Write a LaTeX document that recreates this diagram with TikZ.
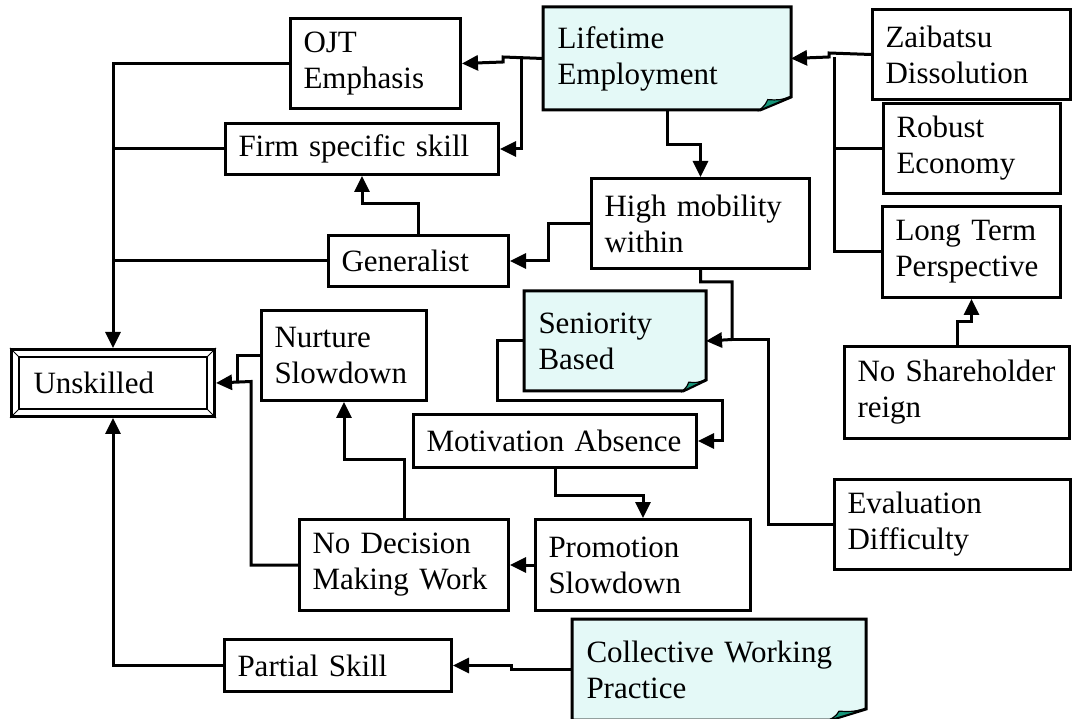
\documentclass[tikz,border=0pt]{standalone}
\usepackage{fontspec}
\setmainfont{Liberation Serif}
\usetikzlibrary{arrows.meta,calc,backgrounds}
\definecolor{notefill}{RGB}{228,249,247}
\definecolor{foldc}{RGB}{22,150,122}
\newcommand\bx[7][]{%
  \pgfmathsetmacro\myBW{#5-#3}%
  \pgfmathsetmacro\myBH{#6-#4}%
  \pgfmathsetmacro\myTW{#5-#3-26}%
  \node[box,#1,minimum width=\myBW pt,minimum height=\myBH pt,text width=\myTW pt] (#2) at (#3,#4) {#7};}
\newcommand\notedraw[3]{%
  \begin{scope}[on background layer]
    \fill[notefill] (#1.north west) -- (#1.north east) -- ($(#1.south east)+(0,-#3)$) -- ($(#1.south east)+(-#2,0)$) -- (#1.south west) -- cycle;
  \end{scope}
  \draw[line width=3pt] (#1.north west) -- (#1.north east) -- ($(#1.south east)+(0,-#3)$) -- ($(#1.south east)+(-#2,0)$) -- (#1.south west) -- cycle;
  \fill[foldc,draw=black,line width=1.2pt] ($(#1.south east)+(-#2,0)$) .. controls ($(#1.south east)+(-0.8*#2,-0.5*#3)$) .. ($(#1.south east)+(-0.75*#2,-0.8*#3)$) .. controls ($(#1.south east)+(-0.4*#2,-0.75*#3)$) .. ($(#1.south east)+(0,-#3)$) -- cycle;}
\begin{document}
\begin{tikzpicture}[x=1pt,y=-1pt,
  box/.style={draw,line width=3pt,anchor=north west,inner xsep=13pt,inner ysep=0pt,align=left,font=\fontsize{31}{36}\selectfont},
  note/.style={draw=none},
  conn/.style={line width=3pt},
  arr/.style={conn,-{Triangle[length=16pt,width=15pt]}}]
\useasboundingbox (0,0) rectangle (1072,719);
% boxes
\bx{ojt}{289}{17}{459}{107}{OJT\\Emphasis}
\bx[note]{life}{543}{7}{788}{107}{Lifetime\\Employment}
\bx{zai}{871}{8}{1069}{98}{Zaibatsu\\Dissolution}
\bx{rob}{882}{102}{1059}{192}{Robust\\Economy}
\bx{firm}{224}{122}{497}{173}{Firm specific skill}
\bx{high}{590}{177}{808}{267}{High mobility\\within}
\bx{gen}{327}{234}{507}{285}{Generalist}
\bx{lt}{881}{205}{1059}{296}{Long Term\\Perspective}
\bx[note]{sen}{524}{291}{703}{388}{Seniority\\Based}
\bx{nur}{260}{309}{425}{399}{Nurture\\Slowdown}
\bx{sh}{843}{345}{1068}{437}{No Shareholder\\reign}
\bx{mot}{412}{413}{695}{466}{Motivation Absence}
\bx{eva}{833}{478}{1069}{568}{Evaluation\\Difficulty}
\bx{nod}{298}{518}{507}{609}{No Decision\\Making Work}
\bx{pro}{534}{518}{749}{609}{Promotion\\Slowdown}
\bx{par}{223}{638}{450}{690}{Partial Skill}
\bx[note]{col}{572}{619}{863}{717}{Collective Working\\Practice}
\node[box,inner xsep=22pt,text width=159pt,minimum width=203pt,minimum height=67pt] (uns) at (10,348) {Unskilled};
\draw[line width=2.5pt] ($(uns.north west)+(9,9)$) rectangle ($(uns.south east)+(-9,-9)$);
\draw[line width=1pt] (uns.north west) -- +(9,9) (uns.north east) -- +(-9,9) (uns.south west) -- +(9,-9) (uns.south east) -- +(-9,-9);
\notedraw{life}{31}{13}
\notedraw{sen}{23}{11}
\notedraw{col}{36}{11}
% junctions
\coordinate (j1) at (521,57);
\coordinate (j2) at (834,57);
\coordinate (j3) at (732,339.5);
\coordinate (j4) at (768,339.5);
\coordinate (j5) at (722,401);
\coordinate (j6) at (251,381.5);
\coordinate (j7) at (237,381.5);
% connectors
\draw[arr] (life.west) -- (503,57) -- (503,62) -- (ojt.east);
\draw[arr] (j1) |- (firm.east);
\draw[arr] (zai.west) -- (829,53) -- (829,57) -- (life.east);
\draw[conn] (lt.west) -| (j2);
\draw[conn] (rob.west) -- (rob.west -| j2);
\draw[arr] (life.south) -- ++(0,35) -| (high.north);
\draw[arr] (high.west) -- ++(-42,0) |- (gen.east);
\draw[arr] (gen.north) -- ++(0,-30) -| (firm.south);
\draw[arr] (ojt.west) -| (uns.north);
\draw[conn] (firm.west) -- (firm.west -| uns.north);
\draw[conn] (gen.west) -- (gen.west -| uns.north);
\draw[arr] (par.west) -| (uns.south);
\draw[arr] (col.west) -- ++(-61,0) |- (par.east);
\draw[arr] (high.south) -- ++(0,12) -| (j3) -- (sen.east);
\draw[conn] (eva.west) -| (j4) -- (j3);
\draw[arr] (sen.west) -- ++(-27,0) |- (j5) |- (mot.east);
\draw[arr] (mot.south) -- ++(0,26) -| (pro.north);
\draw[arr] (pro.west) -- (nod.east);
\draw[arr] (nod.north) -- ++(0,-58) -| (nur.south);
\draw[arr] (nod.west) -| (j6) -- (uns.east);
\draw[conn] (nur.west) -| (j7);
\draw[arr] (sh.north) -- ++(0,-23) -| (lt.south);
\end{tikzpicture}
\end{document}
